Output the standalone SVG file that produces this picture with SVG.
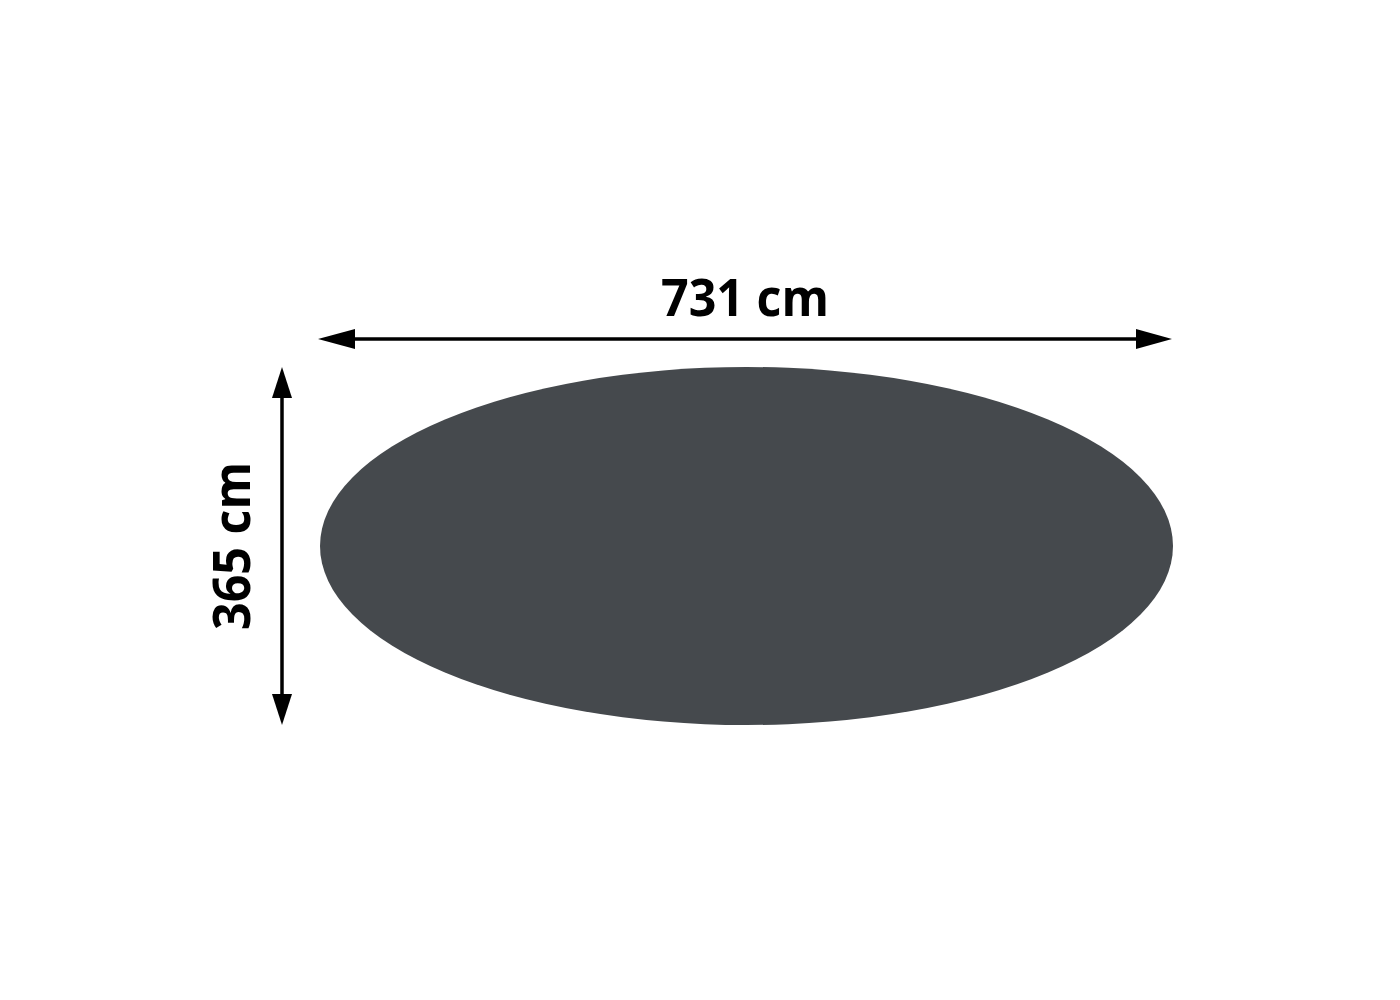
<svg xmlns="http://www.w3.org/2000/svg" width="1400" height="1000" viewBox="0 0 1400 1000">
<style>
.lbl{font-family:"Open Sans","Liberation Sans",sans-serif;font-weight:700;font-size:52px;fill:#000;text-anchor:middle}
.dim{stroke:#000;stroke-width:3.5;fill:none}
</style>
<rect width="1400" height="1000" fill="#fff"/>
<g id="shape">
<ellipse cx="746.5" cy="546" rx="426.5" ry="179" fill="#45494d"/>
</g>
<g id="connectors">
<line class="dim" x1="350" y1="339" x2="1140" y2="339"/>
<polygon points="318,339 355,329 355,349" fill="#000"/>
<polygon points="1172,339 1136,329 1136,349" fill="#000"/>
<line class="dim" x1="282" y1="392" x2="282" y2="700"/>
<polygon points="282,367 272,398 292,398" fill="#000"/>
<polygon points="282,725 272,694 292,694" fill="#000"/>
</g>
<g id="labels">
<text class="lbl" x="745" y="316" textLength="168" lengthAdjust="spacingAndGlyphs">731 cm</text>
<text class="lbl" transform="translate(250,546) rotate(-90)" x="0" y="0" textLength="168" lengthAdjust="spacingAndGlyphs">365 cm</text>
</g>
</svg>
